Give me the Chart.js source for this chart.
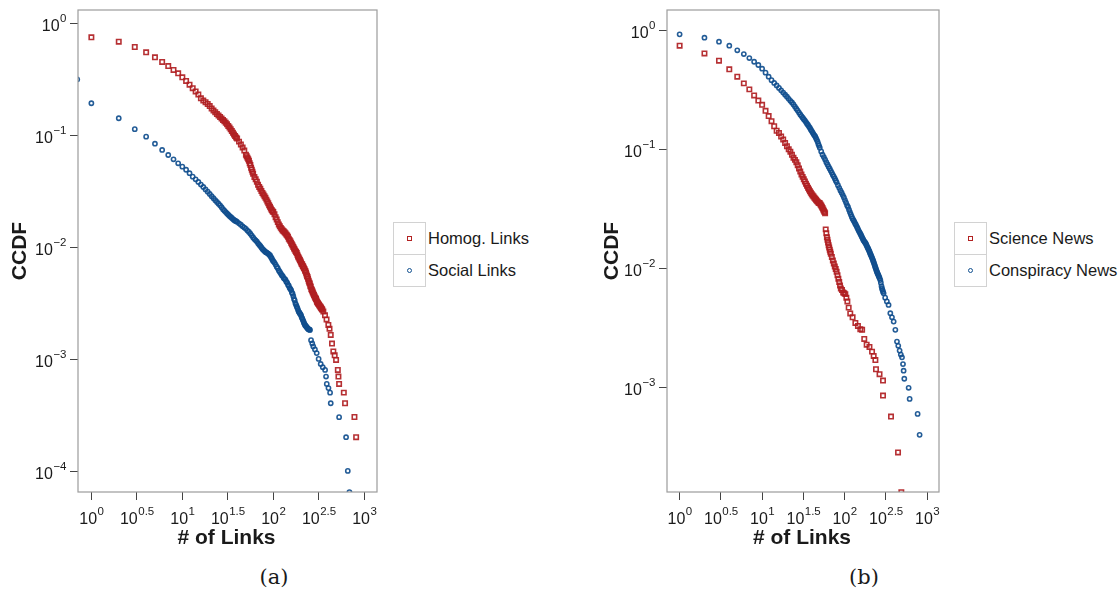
<!DOCTYPE html>
<html>
<head>
<meta charset="utf-8">
<script src="https://cdn.jsdelivr.net/npm/chart.js@4/dist/chart.umd.min.js"></script>
<style>
body { margin:0; background:#fff; width:1118px; height:596px; position:relative; overflow:hidden; font-family:"Liberation Sans", Arial, sans-serif; color:#1a1a1a; }
canvas { position:absolute; top:0; }
#cA { left:0; }
#cB { left:590px; }
.cell { position:absolute; width:33px; height:33px; border:1px solid #d2d2d2; box-sizing:border-box; }
.lab { position:absolute; font-size:16.5px; line-height:32px; white-space:nowrap; }
.sq { position:absolute; left:13px; top:13px; width:5px; height:5px; border:1.4px solid #b22222; box-sizing:border-box; }
.ci { position:absolute; left:13px; top:13px; width:5px; height:5px; border:1.4px solid #12508f; border-radius:50%; box-sizing:border-box; }
.cap { position:absolute; top:565px; width:80px; text-align:center; font-family:"DejaVu Serif", "Liberation Serif", serif; font-size:21px; }
</style>
</head>
<body>
<canvas id="cA" width="390" height="560"></canvas>
<canvas id="cB" width="360" height="560"></canvas>

<div class="cell" style="left:393px;top:222px"><div class="sq"></div></div>
<div class="cell" style="left:393px;top:254px"><div class="ci"></div></div>
<div class="lab" style="left:428px;top:222px">Homog. Links</div>
<div class="lab" style="left:428px;top:254px">Social Links</div>

<div class="cell" style="left:954px;top:222px"><div class="sq"></div></div>
<div class="cell" style="left:954px;top:254px"><div class="ci"></div></div>
<div class="lab" style="left:989px;top:222px">Science News</div>
<div class="lab" style="left:989px;top:254px">Conspiracy News</div>

<div class="cap" style="left:234px">(a)</div>
<div class="cap" style="left:824px">(b)</div>

<script>
var red = 'rgba(176,30,34,0.92)'
var blue = 'rgba(16,78,142,0.92)'

// tick powers of ten (labels are 10^p)
var xTickPow = [0, 0.5, 1, 1.5, 2, 2.5, 3]
var yTickPowA = [0, -1, -2, -3, -4]
var yTickPowB = [0, -1, -2, -3]

// (a) Homog. Links  [# of links, CCDF]
var homog = [[1,0.76],[2,0.695],[3,0.623],[4,0.559],[5,0.504],[6,0.458],[7,0.421],[8,0.389],[9,0.363],[10,0.334],
    [11,0.31],[12,0.287],[13,0.267],[14,0.25],[15,0.235],[16,0.217],[17,0.207],[18,0.2],[19,0.193],[20,0.185],
    [21,0.176],[22,0.169],[23,0.163],[24,0.157],[25,0.152],[26,0.148],[27,0.143],[28,0.139],[29,0.135],[30,0.131],
    [31,0.127],[32,0.123],[33,0.119],[34,0.115],[35,0.111],[36,0.107],[37,0.103],[38,0.1],[39,0.097],[40,0.095],
    [42,0.089],[44,0.084],[46,0.079],[48,0.074],[50,0.068],[51,0.066],[52,0.064],[53,0.062],[54,0.06],[55,0.057],
    [56,0.055],[57,0.052],[58,0.05],[59,0.048],[60,0.046],[62,0.043],[64,0.041],[66,0.039],[68,0.0366],[70,0.035],
    [72,0.0337],[74,0.0323],[76,0.031],[78,0.03],[80,0.029],[82,0.028],[84,0.027],[86,0.026],[88,0.025],[90,0.0241],
    [92,0.0233],[94,0.0225],[96,0.0218],[98,0.0213],[100,0.0209],[103,0.02],[106,0.0188],[109,0.0179],[112,0.017],[115,0.0162],
    [118,0.0156],[121,0.0151],[124,0.0147],[127,0.0143],[130,0.0141],[133,0.0138],[136,0.0135],[139,0.0132],[142,0.0129],[145,0.0126],
    [148,0.0121],[151,0.0118],[154,0.0115],[157,0.0111],[160,0.0108],[163,0.0105],[166,0.0102],[169,0.0099],[172,0.0097],[175,0.0094],
    [178,0.0092],[181,0.009],[184,0.0087],[187,0.0084],[190,0.0082],[193,0.008],[196,0.0078],[199,0.0076],[202,0.0074],[205,0.0072],
    [208,0.0071],[211,0.0069],[214,0.0068],[217,0.0066],[220,0.0065],[223,0.0063],[226,0.0062],[229,0.006],[232,0.0058],[235,0.0056],
    [238,0.0055],[241,0.0053],[245,0.0051],[248,0.0049],[252,0.0048],[255,0.0046],[258,0.0045],[262,0.0043],[265,0.0042],[269,0.0041],
    [272,0.004],[276,0.0039],[280,0.0038],[284,0.0037],[288,0.0036],[292,0.00355],[295,0.0035],[299,0.0034],[302,0.0033],[306,0.00325],
    [310,0.0032],[314,0.00315],[318,0.0031],[323,0.00305],[328,0.003],[332,0.00295],[336,0.0029],[341,0.00285],[346,0.0028],[355,0.0027],
    [370,0.0025],[385,0.0023],[403,0.00205],[415,0.0019],[428,0.00167],[442,0.0014],[457,0.00119],[473,0.0011],[490,0.001],[512,0.000814],
    [520,0.00071],[529,0.00061],[596,0.00051],[615,0.00041],[780,0.000309],[814,0.000204]]

// (a) Social Links
var social = [[0.7,0.32],[1,0.196],[2,0.144],[3,0.115],[4,0.0986],[5,0.0853],[6,0.075],[7,0.0676],[8,0.0619],[9,0.057],
    [10,0.0532],[11,0.0499],[12,0.0465],[13,0.0433],[14,0.041],[15,0.0388],[16,0.0368],[17,0.035],[18,0.0333],[19,0.0318],
    [20,0.0303],[21,0.029],[22,0.0278],[23,0.0267],[24,0.0257],[25,0.0248],[26,0.024],[27,0.0231],[28,0.0222],[29,0.0215],
    [30,0.0209],[31,0.0203],[32,0.0198],[33,0.0193],[34,0.0189],[35,0.0185],[36,0.0181],[37,0.0178],[38,0.0175],[39,0.0173],
    [40,0.0171],[42,0.0166],[44,0.0161],[46,0.0156],[48,0.0152],[50,0.0148],[52,0.0143],[54,0.0139],[56,0.0134],[58,0.0129],
    [60,0.0124],[62,0.012],[64,0.0117],[66,0.0114],[68,0.011],[70,0.0107],[72,0.0104],[74,0.0101],[76,0.0098],[78,0.0096],
    [80,0.0094],[82,0.0092],[84,0.0091],[86,0.009],[88,0.0089],[90,0.0087],[92,0.0086],[94,0.0083],[96,0.0081],[98,0.0078],
    [100,0.0076],[103,0.0074],[106,0.0071],[109,0.0068],[112,0.0066],[115,0.0063],[118,0.0061],[121,0.0059],[124,0.0057],[127,0.0056],
    [130,0.0054],[133,0.0053],[136,0.0052],[139,0.005],[142,0.0049],[145,0.0047],[148,0.0046],[151,0.0044],[154,0.0043],[157,0.0042],
    [160,0.004],[163,0.0039],[166,0.0037],[169,0.0035],[172,0.0034],[175,0.0032],[178,0.0031],[181,0.003],[184,0.0029],[187,0.0028],
    [190,0.0027],[193,0.00265],[196,0.0026],[199,0.00255],[202,0.0025],[205,0.0024],[208,0.00235],[211,0.00228],[214,0.00222],[217,0.00215],
    [220,0.0021],[223,0.00205],[226,0.00202],[230,0.00199],[233,0.00196],[237,0.00193],[240,0.0019],[244,0.00188],[247,0.00187],[250,0.00186],
    [253,0.00185],[260,0.0015],[268,0.0014],[275,0.00132],[287,0.00124],[300,0.00115],[315,0.00102],[332,0.00092],[350,0.00086],[371,0.000814],
    [380,0.00071],[387,0.00061],[404,0.00056],[421,0.00051],[428,0.00041],[529,0.000308],[631,0.000204],[659,0.000102],[687,0.000066]]

// (b) Science News
var science = [[1,0.739],[2,0.637],[3,0.553],[4,0.468],[5,0.406],[6,0.357],[7,0.318],[8,0.283],[9,0.256],[10,0.236],
    [11,0.21],[12,0.19],[13,0.172],[14,0.156],[15,0.143],[16,0.137],[17,0.128],[18,0.121],[19,0.113],[20,0.106],
    [21,0.1],[22,0.0955],[23,0.09],[24,0.085],[25,0.0815],[26,0.078],[27,0.0735],[28,0.069],[29,0.065],[30,0.0615],
    [31,0.0587],[32,0.056],[33,0.0537],[34,0.0515],[35,0.0495],[36,0.0475],[37,0.046],[38,0.0445],[39,0.0432],[40,0.042],
    [41,0.041],[42,0.0401],[43,0.0393],[44,0.0385],[45,0.0377],[46,0.037],[47,0.0364],[48,0.0358],[49,0.0355],[50,0.0352],
    [51,0.0345],[52,0.0338],[53,0.033],[54,0.0322],[55,0.0313],[56,0.0305],[57,0.0298],[58,0.0291],[59,0.0213],[60,0.0198],
    [61,0.0183],[62,0.0174],[63,0.0165],[64,0.0157],[65,0.015],[66,0.0144],[67,0.0138],[68,0.0133],[70,0.0125],[72,0.0117],
    [74,0.011],[76,0.0104],[78,0.0099],[80,0.0094],[82,0.0088],[84,0.0082],[86,0.0077],[88,0.0072],[90,0.0068],[93,0.0066],
    [96,0.0063],[99,0.0062],[102,0.0061],[105,0.0057],[108,0.0053],[112,0.0047],[117,0.0042],[125,0.0039],[135,0.0035],[145,0.0033],
    [155,0.0031],[163,0.00306],[173,0.00257],[185,0.0023],[200,0.0022],[215,0.00201],[225,0.00185],[236,0.00171],[240,0.00143],[265,0.0013],
    [292,0.00115],[292,0.00086],[365,0.000574],[444,0.000287],[487,0.000133]]

// (b) Conspiracy News
var conspiracy = [[1,0.92],[2,0.862],[3,0.798],[4,0.739],[5,0.676],[6,0.629],[7,0.582],[8,0.542],[9,0.509],[10,0.474],
    [11,0.439],[12,0.406],[13,0.38],[14,0.36],[15,0.343],[16,0.327],[17,0.312],[18,0.299],[19,0.287],[20,0.276],
    [21,0.265],[22,0.255],[23,0.247],[24,0.238],[25,0.228],[26,0.219],[27,0.211],[28,0.203],[29,0.196],[30,0.19],
    [31,0.184],[32,0.179],[33,0.174],[34,0.169],[35,0.164],[36,0.16],[37,0.155],[38,0.151],[39,0.146],[40,0.142],
    [41,0.138],[42,0.134],[43,0.131],[44,0.128],[45,0.124],[46,0.12],[47,0.116],[48,0.111],[49,0.107],[50,0.103],
    [52,0.096],[54,0.09],[56,0.086],[58,0.082],[60,0.078],[62,0.0747],[64,0.0715],[66,0.0687],[68,0.066],[70,0.0635],
    [72,0.061],[74,0.059],[76,0.057],[78,0.0548],[80,0.0528],[83,0.05],[86,0.0475],[89,0.0452],[92,0.0432],[95,0.0413],
    [98,0.0395],[101,0.0375],[104,0.0357],[107,0.034],[110,0.0328],[113,0.0311],[116,0.0297],[119,0.0284],[122,0.0272],[125,0.0262],
    [128,0.0254],[131,0.0247],[134,0.0239],[137,0.0233],[140,0.0226],[143,0.0219],[146,0.0212],[149,0.0206],[152,0.0201],[155,0.0196],
    [158,0.0191],[161,0.0186],[164,0.0181],[167,0.0176],[170,0.0172],[173,0.0169],[176,0.0166],[179,0.0164],[182,0.016],[185,0.0156],
    [188,0.0152],[191,0.0149],[194,0.0146],[197,0.0142],[200,0.0139],[203,0.0135],[206,0.0132],[209,0.0129],[212,0.0126],[215,0.0123],
    [218,0.012],[221,0.0117],[224,0.0114],[227,0.0111],[230,0.0108],[233,0.0105],[236,0.0102],[239,0.01],[242,0.0097],[245,0.0095],
    [248,0.0093],[251,0.0091],[255,0.0089],[258,0.0087],[262,0.0085],[266,0.0083],[271,0.008],[275,0.0076],[280,0.0071],[284,0.0068],
    [288,0.0066],[292,0.0064],[297,0.0062],[310,0.0057],[325,0.0053],[341,0.00495],[358,0.00422],[375,0.0039],[393,0.00359],[412,0.00306],
    [431,0.00244],[447,0.00225],[464,0.00205],[480,0.0019],[496,0.0018],[510,0.00158],[519,0.00139],[529,0.00119],[597,0.001],[614,0.000807],
    [767,0.000604],[811,0.000403]]

function pts(pairs) {
    return pairs.map(function (p) { return { x: p[0], y: p[1] } })
}

// "10" with a raised exponent
function supLabel(ctx, x, y, p, align) {
    var exp = String(p).replace('-', '\u2212')
    ctx.font = '16px "Liberation Sans", Arial, sans-serif'
    var w1 = ctx.measureText('10').width
    ctx.font = '11.5px "Liberation Sans", Arial, sans-serif'
    var w2 = ctx.measureText(exp).width
    var x0 = align === 'center' ? x - (w1 + w2) / 2 : x - (w1 + w2)
    ctx.textAlign = 'left'
    ctx.textBaseline = 'alphabetic'
    ctx.font = '16px "Liberation Sans", Arial, sans-serif'
    ctx.fillText('10', x0, y)
    ctx.font = '11.5px "Liberation Sans", Arial, sans-serif'
    ctx.fillText(exp, x0 + w1 + 0.5, y - 9)
}

var frameLabels = {
    id: 'frameLabels',
    afterDraw: function (chart, args, o) {
        var ctx = chart.ctx, a = chart.chartArea
        ctx.save()
        ctx.strokeStyle = '#9c9c9c'
        ctx.lineWidth = 1.2
        ctx.strokeRect(a.left, a.top, a.right - a.left, a.bottom - a.top)
        ctx.fillStyle = '#1a1a1a'
        chart.scales.x.ticks.forEach(function (t, i) {
            supLabel(ctx, chart.scales.x.getPixelForValue(t.value), a.bottom + 31.5, xTickPow[i], 'center')
        })
        chart.scales.y.ticks.forEach(function (t, i) {
            supLabel(ctx, a.left - 12, chart.scales.y.getPixelForValue(t.value) + 7.5, o.yPow[i], 'right')
        })
        ctx.font = 'bold 21px "Liberation Sans", Arial, sans-serif'
        ctx.textAlign = 'center'
        ctx.fillText('# of Links', o.xTitleX, 544)
        ctx.translate(o.yTitleX, 251)
        ctx.rotate(-Math.PI / 2)
        ctx.fillText('CCDF', 0, 0)
        ctx.restore()
    }
}

function makeChart(id, sets, xr, yr, yPow, yW, padR, xTitleX, yTitleX) {
    return new Chart(document.getElementById(id).getContext('2d'), {
        type: 'scatter',
        data: { datasets: sets },
        plugins: [frameLabels],
        options: {
            responsive: false,
            animation: false,
            devicePixelRatio: 1,
            events: [],
            layout: { padding: { top: 10, right: padR, bottom: 0, left: 0 }, autoPadding: false },
            plugins: {
                legend: { display: false },
                tooltip: { enabled: false },
                frameLabels: { yPow: yPow, xTitleX: xTitleX, yTitleX: yTitleX }
            },
            scales: {
                x: {
                    type: 'logarithmic', min: Math.pow(10, xr[0]), max: Math.pow(10, xr[1]), bounds: 'data',
                    ticks: { display: false },
                    grid: { drawOnChartArea: false, drawTicks: true, tickLength: 8, color: '#444', lineWidth: 1 },
                    border: { display: false },
                    afterBuildTicks: function (s) { s.ticks = xTickPow.map(function (p) { return { value: Math.pow(10, p) } }) },
                    afterFit: function (s) { s.height = 68 }
                },
                y: {
                    type: 'logarithmic', min: Math.pow(10, yr[0]), max: Math.pow(10, yr[1]), bounds: 'data',
                    ticks: { display: false },
                    grid: { drawOnChartArea: false, drawTicks: true, tickLength: 8, color: '#444', lineWidth: 1 },
                    border: { display: false },
                    afterBuildTicks: function (s) { s.ticks = yPow.map(function (p) { return { value: Math.pow(10, p) } }) },
                    afterFit: function (s) { s.width = yW }
                }
            }
        }
    })
}

var chartA = makeChart('cA', [
    { label: 'Homog. Links', data: pts(homog), pointStyle: 'rect', pointRadius: 3.1, borderWidth: 1.6, borderColor: red, backgroundColor: 'transparent', clip: 0 },
    { label: 'Social Links', data: pts(social), pointStyle: 'circle', pointRadius: 2.1, borderWidth: 1.6, borderColor: blue, backgroundColor: 'transparent', clip: 0 }
], [-0.147, 3.14], [-4.18, 0.125], yTickPowA, 78, 13, 226.5, 26)

var chartB = makeChart('cB', [
    { label: 'Science News', data: pts(science), pointStyle: 'rect', pointRadius: 3.1, borderWidth: 1.6, borderColor: red, backgroundColor: 'transparent', clip: 0 },
    { label: 'Conspiracy News', data: pts(conspiracy), pointStyle: 'circle', pointRadius: 2.1, borderWidth: 1.6, borderColor: blue, backgroundColor: 'transparent', clip: 0 }
], [-0.153, 3.144], [-3.874, 0.168], yTickPowB, 77, 11, 212, 28)
</script>
</body>
</html>
